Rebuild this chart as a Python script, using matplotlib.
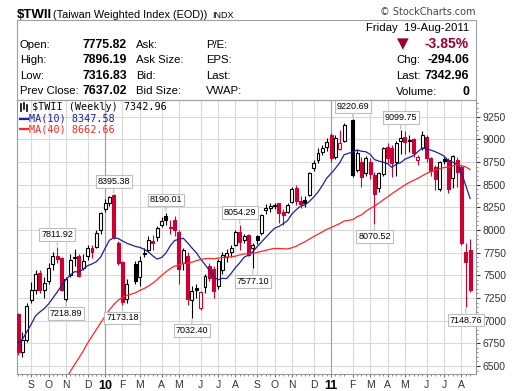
import numpy as np
import pandas as pd
import matplotlib
matplotlib.use('Agg')
import matplotlib.pyplot as plt
import matplotlib.dates as mdates
from matplotlib.patches import Rectangle
from matplotlib.lines import Line2D
from matplotlib.ticker import MultipleLocator, FixedLocator

# weekly bars, dated on Monday; Lunar New Year weeks had no trading
weeks = pd.date_range('2009-08-17', '2011-08-15', freq='W-MON')
holiday_weeks = pd.to_datetime(['2010-02-15', '2011-01-31'])
dates = weeks[~weeks.isin(holiday_weeks)]
black_weeks = pd.to_datetime(['2011-02-07'])  # drawn black on the reference

opens = [7075, 6660, 6790, 7230, 7340, 7525, 7342, 7434, 7630, 7710,
         7690, 7239, 7507, 7705, 7710, 7580, 7710, 7805, 7816, 8000,
         8228, 8294, 8390, 7853, 7651, 7235,
         7630, 7487, 7740, 7782, 7880, 7919, 8055, 8154,
         8035, 8111, 7983, 7635, 7708, 7231, 7360, 7138, 7370, 7605,
         7568, 7385, 7560, 7700, 7760, 7836, 7983, 7890, 7947, 7800,
         7929, 7966, 8223, 8245, 8262, 8296, 8200, 8202, 8313, 8460,
         8320, 8330, 8386, 8680, 8772, 8864, 8919, 9048, 8810, 8890,
         8982,
         9215, 8662, 8754, 8625, 8754, 8610, 8460, 8617, 8919, 8910,
         8754, 8985, 9029, 8990, 9000, 8772, 8901, 9029, 8790, 8699,
         8452, 8779, 8772, 8570, 8772, 8700, 7761, 7775.82]
highs = [7080, 6880, 7190, 7430, 7560, 7560, 7480, 7640, 7760, 7811.92,
         7700, 7480, 7730, 7790, 7730, 7730, 7840, 7830, 8000, 8200,
         8340, 8380, 8395.38, 7880, 7660, 7460,
         7660, 7710, 7800, 7930, 7950, 8040, 8140, 8190.01,
         8110, 8160, 8000, 7800, 7763, 7380, 7400, 7330, 7520, 7640,
         7600, 7680, 7760, 7790, 7840, 8000, 8054.29, 7960, 7960, 7860,
         7940, 8180, 8290, 8300, 8300, 8300, 8230, 8300, 8470, 8500,
         8380, 8380, 8640, 8770, 8900, 8940, 9010, 9066, 9050, 9100,
         9180,
         9220.69, 8880, 8800, 8820, 8790, 8640, 8640, 8920, 8960, 8940,
         8980, 9099.75, 9090, 9050, 9020, 8830, 9090, 9050, 8800, 8720,
         8760, 8810, 8790, 8830, 8809, 8720, 7860, 7896.19]
lows = [6620, 6600, 6770, 7190, 7290, 7310, 7250, 7400, 7560, 7640,
        7330, 7218.89, 7480, 7600, 7480, 7560, 7670, 7688, 7800, 7960,
        8200, 8260, 7900, 7610, 7173.18, 7190,
        7400, 7380, 7700, 7760, 7780, 7880, 8030, 8060,
        7960, 7930, 7400, 7560, 7175, 7032.40, 7250, 7120, 7300, 7440,
        7248, 7350, 7520, 7650, 7700, 7820, 7780, 7860, 7708, 7577.10,
        7850, 7950, 8180, 8200, 8230, 8075, 8050, 8190, 8300, 8280,
        8240, 8250, 8370, 8650, 8740, 8830, 8870, 8754, 8780, 8880,
        8970,
        8590, 8640, 8478, 8600, 8560, 8070.52, 8420, 8600, 8740, 8590,
        8600, 8840, 8840, 8860, 8800, 8720, 8880, 8750, 8600, 8440,
        8430, 8730, 8405, 8460, 8478, 7840, 7148.76, 7316.83]
closes = [6650, 6790, 7158, 7335, 7520, 7340, 7415, 7580, 7710, 7675,
          7340, 7463, 7673, 7690, 7490, 7655, 7800, 7760, 7963, 8184,
          8294, 8368, 7927, 7632, 7210, 7410,
          7440, 7660, 7748, 7892, 7855, 8018, 8103, 8110,
          8020, 8000, 7565, 7782, 7237, 7330, 7340, 7311, 7495, 7468,
          7330, 7653, 7727, 7752, 7800, 7973, 7873, 7930, 7726, 7837,
          7892, 8168, 8248, 8262, 8278, 8185, 8170, 8276, 8449, 8320,
          8283, 8300, 8625, 8735, 8846, 8908, 8974, 8790, 9011, 8956,
          9158,
          8610, 8846, 8590, 8790, 8620, 8395, 8625, 8901, 8790, 8740,
          8963, 9011, 8974, 8980, 8846, 8809, 9048, 8790, 8650, 8560,
          8746, 8758, 8450, 8820, 8644, 7853, 7650, 7342.96]
# weekly closes before the window (needed for the moving averages)
prior_closes = [4600, 4460, 4400, 4400, 4640, 4500, 4420, 4600, 4600, 4300, 4250,
                4400, 4600, 4550, 4560, 4420, 4700, 5000, 5200, 5400, 5600, 5600,
                5700, 5990, 6500, 6300, 6600, 6900, 6800, 6600, 6400, 6350, 6500,
                6600, 6900, 7050, 7070, 7050, 7000]

peak_labels = [7811.92, 8395.38, 8190.01, 8054.29, 9220.69, 9099.75]
trough_labels = [7218.89, 7173.18, 7032.40, 7577.10, 8070.52, 7148.76]

info_labels = ['Open:', 'High:', 'Low:', 'Prev Close:']
info_values = ['7775.82', '7896.19', '7316.83', '7637.02']
info_mid = ['Ask:', 'Ask Size:', 'Bid:', 'Bid Size:']
info_far = ['P/E:', 'EPS:', 'Last:', 'VWAP:']
quote_labels = ['Chg:', 'Last:', 'Volume:']
quote_values = ['-294.06', '7342.96', '0']

RED = '#cc0033'
NAVY = '#1f1f9c'
MARED = '#ff2626'
sans = 'Liberation Sans'

W, H = 520, 391
fig = plt.figure(figsize=(W / 100, H / 100), dpi=100)

def fx(px):
    return px / W

def fy(py):
    return 1 - py / H

ax = fig.add_axes([fx(17), fy(374), fx(476) - fx(17), fy(100) - fy(374)])

x = mdates.date2num(dates.to_pydatetime())
n = len(closes)
prev = [prior_closes[-1]] + closes[:-1]

for i in range(n):
    o, h, l, c = opens[i], highs[i], lows[i], closes[i]
    col = 'black' if (c >= prev[i] or dates[i] in black_weeks) else RED
    ax.vlines(x[i], l, h, color=col, lw=0.8, zorder=3)
    fc = 'white' if c > o else col
    ax.add_patch(Rectangle((x[i] - 2.4, min(o, c)), 4.8, max(abs(c - o), 6),
                           fc=fc, ec=col, lw=0.8, zorder=4))

allc = pd.Series(prior_closes + closes, dtype=float)
ma10 = allc.rolling(10).mean().values[-n:]
ma40 = allc.rolling(40).mean().values[-n:]
ax.plot(x, ma10, color=NAVY, lw=0.9, zorder=5)
ax.plot(x, ma40, color=MARED, lw=0.9, zorder=5)

# price callouts
box = dict(boxstyle='square,pad=0.2', fc='white', ec='#bdbdbd', lw=0.8)
arr = dict(arrowstyle='-', color='#bdbdbd', lw=0.8, shrinkA=0, shrinkB=1)
for v in peak_labels:
    i = highs.index(v)
    ax.annotate(f'{v:.2f}', xy=(x[i], v), xytext=(0, 6), textcoords='offset points',
                ha='center', va='bottom', fontsize=6.5, family=sans, bbox=box,
                arrowprops=arr, zorder=7, annotation_clip=False)
for v in trough_labels:
    i = lows.index(v)
    ax.annotate(f'{v:.2f}', xy=(x[i], v), xytext=(0, -6), textcoords='offset points',
                ha='center', va='top', fontsize=6.5, family=sans, bbox=box,
                arrowprops=arr, zorder=7, annotation_clip=False)

# axes
ax.set_xlim(x[0] - 1.8, x[-1] + 9.5)
ax.set_ylim(6412, 9434)
ax.yaxis.tick_right()
ax.set_yticks(np.arange(6500, 9251, 250))
ax.yaxis.set_minor_locator(MultipleLocator(50))

firsts = []
seen = set()
for i, d in enumerate(dates):
    if (d.year, d.month) not in seen:
        seen.add((d.year, d.month))
        firsts.append(i)
firsts = firsts[1:]
ax.set_xticks(x[firsts])
ax.set_xticklabels([str(dates[i].year)[2:] if dates[i].month == 1
                    else dates[i].strftime('%b')[0] for i in firsts])
for i, t in zip(firsts, ax.get_xticklabels()):
    t.set_family(sans)
    if dates[i].month == 1:
        t.set_fontweight('bold')
        t.set_fontsize(9)
    else:
        t.set_fontsize(7.5)
        t.set_color('#333333')
for i in firsts:
    if dates[i].month == 1:
        ax.axvline(x[i], color='#a0a0a0', lw=0.8, zorder=1)
ax.xaxis.set_minor_locator(FixedLocator(x))

ax.grid(True, which='major', color='#d9d9d9', lw=0.8)
ax.set_axisbelow(True)
ax.tick_params(axis='y', which='major', length=3, labelsize=7.5, pad=2,
               colors='#333333')
ax.tick_params(axis='y', which='minor', length=1.5, color='#777777')
ax.tick_params(axis='x', which='major', length=2, pad=2, color='#777777')
ax.tick_params(axis='x', which='minor', length=1.5, color='#777777')
for t in ax.get_yticklabels():
    t.set_family(sans)
for s in ax.spines.values():
    s.set_color('#999999')
    s.set_linewidth(0.8)

# legend inside plot
fig.text(fx(31.5), fy(107.5), '$TWII (Weekly) 7342.96', family='DejaVu Sans Mono',
         fontsize=7.3, va='center')
fig.text(fx(29), fy(118.5), 'MA(10) 8347.58', family='DejaVu Sans Mono',
         fontsize=7.3, va='center', color=NAVY)
fig.text(fx(29), fy(129), 'MA(40) 8662.66', family='DejaVu Sans Mono',
         fontsize=7.3, va='center', color=MARED)
fig.add_artist(Line2D([fx(19.5), fx(28)], [fy(118.5)] * 2, color=NAVY, lw=1.6,
                      transform=fig.transFigure))
fig.add_artist(Line2D([fx(19.5), fx(28)], [fy(129)] * 2, color=MARED, lw=1.6,
                      transform=fig.transFigure))
for px, top, bot in [(21, 104, 111), (24, 103, 109), (27, 105, 111)]:
    fig.add_artist(Line2D([fx(px)] * 2, [fy(top), fy(bot)], color='black', lw=1.2,
                          transform=fig.transFigure))

# header
fig.text(fx(17), fy(17.5), '$TWII', fontsize=9.5, fontweight='bold', family=sans,
         va='baseline')
fig.text(fx(53), fy(17.5), '(Taiwan Weighted Index (EOD))', fontsize=7.8, family=sans,
         va='baseline')
fig.text(fx(212), fy(17.5), 'INDX', fontsize=6.5, family=sans, va='baseline')
fig.text(fx(476), fy(15), '\u00a9 StockCharts.com', fontsize=7, family='DejaVu Sans',
         color='#444444', ha='right', va='baseline')
fig.add_artist(Rectangle((fx(17), fy(100)), fx(476) - fx(17), fy(20) - fy(100),
                         transform=fig.transFigure, fill=False, ec='#a0a0a0', lw=0.8))

rows_y = [44.5, 60, 76, 91.5]
for k, ry in enumerate(rows_y):
    fig.text(fx(20), fy(ry), info_labels[k], fontsize=8.2, family=sans, va='center')
    fig.text(fx(127), fy(ry), info_values[k], fontsize=8.8, family=sans,
             fontweight='bold', va='center', ha='right')
    fig.text(fx(136), fy(ry), info_mid[k], fontsize=8.2, family=sans, va='center')
    fig.text(fx(206), fy(ry), info_far[k], fontsize=8.2, family=sans, va='center')

fig.text(fx(469), fy(28), 'Friday  19-Aug-2011', fontsize=8.2, family=sans,
         va='center', ha='right')
fig.text(fx(403), fy(43.5), '\u25bc', fontsize=11, family='DejaVu Sans',
         color='#990033', va='center', ha='center')
fig.text(fx(469), fy(43.5), '-3.85%', fontsize=10, family=sans, fontweight='bold',
         color='#990033', va='center', ha='right')
for k, ry in enumerate([60, 76, 92]):
    fig.text(fx(396), fy(ry), quote_labels[k], fontsize=8.2, family=sans, va='center')
    fig.text(fx(469), fy(ry), quote_values[k], fontsize=8.8, family=sans,
             fontweight='bold', va='center', ha='right')

fig.savefig('out.png', dpi=100)
